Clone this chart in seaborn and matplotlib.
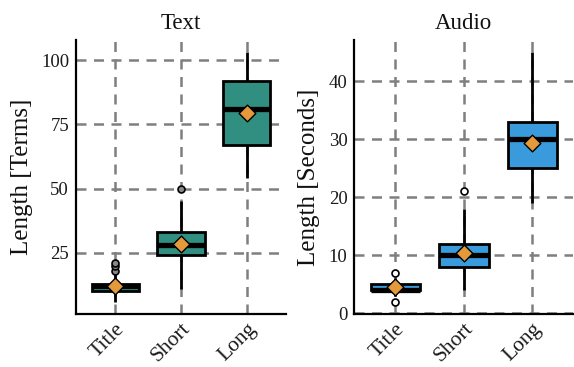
import matplotlib
matplotlib.use("Agg")
import matplotlib.pyplot as plt
import seaborn as sns
import pandas as pd

categories = ["Title", "Short", "Long"]

# Text panel (length in terms)
text_whisker_low = [6, 11, 54]
text_q1 = [10, 24, 67]
text_median = [12, 28, 81]
text_q3 = [13, 33, 92]
text_whisker_high = [17, 45, 103]
text_outliers = [[18, 20, 21], [50], []]
text_mean = [11.9, 28.4, 79.3]
text_yticks = [25, 50, 75, 100]

# Audio panel (length in seconds)
audio_whisker_low = [3, 4, 19]
audio_q1 = [4, 8, 25]
audio_median = [4, 10, 30]
audio_q3 = [5, 12, 33]
audio_whisker_high = [6, 18, 45]
audio_outliers = [[2, 7], [21], []]
audio_mean = [4.5, 10.3, 29.3]
audio_yticks = [0, 10, 20, 30, 40]

panel_titles = ["Text", "Audio"]
y_labels = ["Length [Terms]", "Length [Seconds]"]
box_colors = ["#308F80", "#3A9BDC"]
flier_faces = ["#888888", "white"]
mean_color = "#E49A3A"


def sample_from_stats(lo, q1, med, q3, hi, outs):
    # reconstruct a sample whose quartiles/whiskers equal the read statistics
    rows = []
    for i, cat in enumerate(categories):
        vals = [lo[i]] + [q1[i]] * 10 + [med[i]] * 10 + [q3[i]] * 10 + [hi[i]] + list(outs[i])
        rows += [(cat, v) for v in vals]
    return pd.DataFrame(rows, columns=["category", "value"])


frames = [
    sample_from_stats(text_whisker_low, text_q1, text_median, text_q3, text_whisker_high, text_outliers),
    sample_from_stats(audio_whisker_low, audio_q1, audio_median, audio_q3, audio_whisker_high, audio_outliers),
]
means = [
    pd.DataFrame({"category": categories, "value": text_mean}),
    pd.DataFrame({"category": categories, "value": audio_mean}),
]
yticks = [text_yticks, audio_yticks]

sns.set_style("white")
plt.rcParams["font.family"] = ["Liberation Serif", "DejaVu Serif"]

fig = plt.figure(figsize=(5.74, 3.67), dpi=100)
ax_pos = [
    [0.1324, 0.1444, 0.3656, 0.7466],
    [0.6173, 0.1444, 0.3817, 0.7466],
]

for k in range(2):
    ax = fig.add_axes(ax_pos[k])
    sns.boxplot(
        data=frames[k], x="category", y="value", order=categories, ax=ax,
        color=box_colors[k], saturation=1, width=0.72, showcaps=False,
        linecolor="black", linewidth=2.0,
        medianprops=dict(color="black", linewidth=3.8),
        flierprops=dict(marker="o", markersize=5, markerfacecolor=flier_faces[k],
                        markeredgecolor="black", markeredgewidth=1.2),
    )
    sns.stripplot(
        data=means[k], x="category", y="value", order=categories, ax=ax,
        jitter=False, marker="D", size=8.5, color=mean_color,
        edgecolor="black", linewidth=1.0, zorder=6,
    )
    ax.set_xlim(-0.6, 2.6)
    ax.set_yticks(yticks[k])
    ax.set_axisbelow(True)
    ax.grid(True, color="#7f7f7f", linewidth=1.8, linestyle=(0, (4, 3)))
    for s in ["top", "right"]:
        ax.spines[s].set_visible(False)
    for s in ["left", "bottom"]:
        ax.spines[s].set_color("black")
        ax.spines[s].set_linewidth(1.6)
    ax.tick_params(axis="both", length=3, width=1.4, color="#666666", labelcolor="#1a1a1a")
    ax.tick_params(axis="y", labelsize=13.5, pad=2)
    ax.tick_params(axis="x", labelsize=15.5, pad=1)
    for lbl in ax.get_xticklabels():
        lbl.set_rotation(45)
        lbl.set_ha("right")
        lbl.set_rotation_mode("anchor")
    ax.set_xlabel("")
    ax.set_ylabel(y_labels[k], fontsize=18, color="#111111", labelpad=6)
    ax.set_title(panel_titles[k], fontsize=16.5, color="#111111", pad=8)

fig.savefig("out.png", dpi=100)
